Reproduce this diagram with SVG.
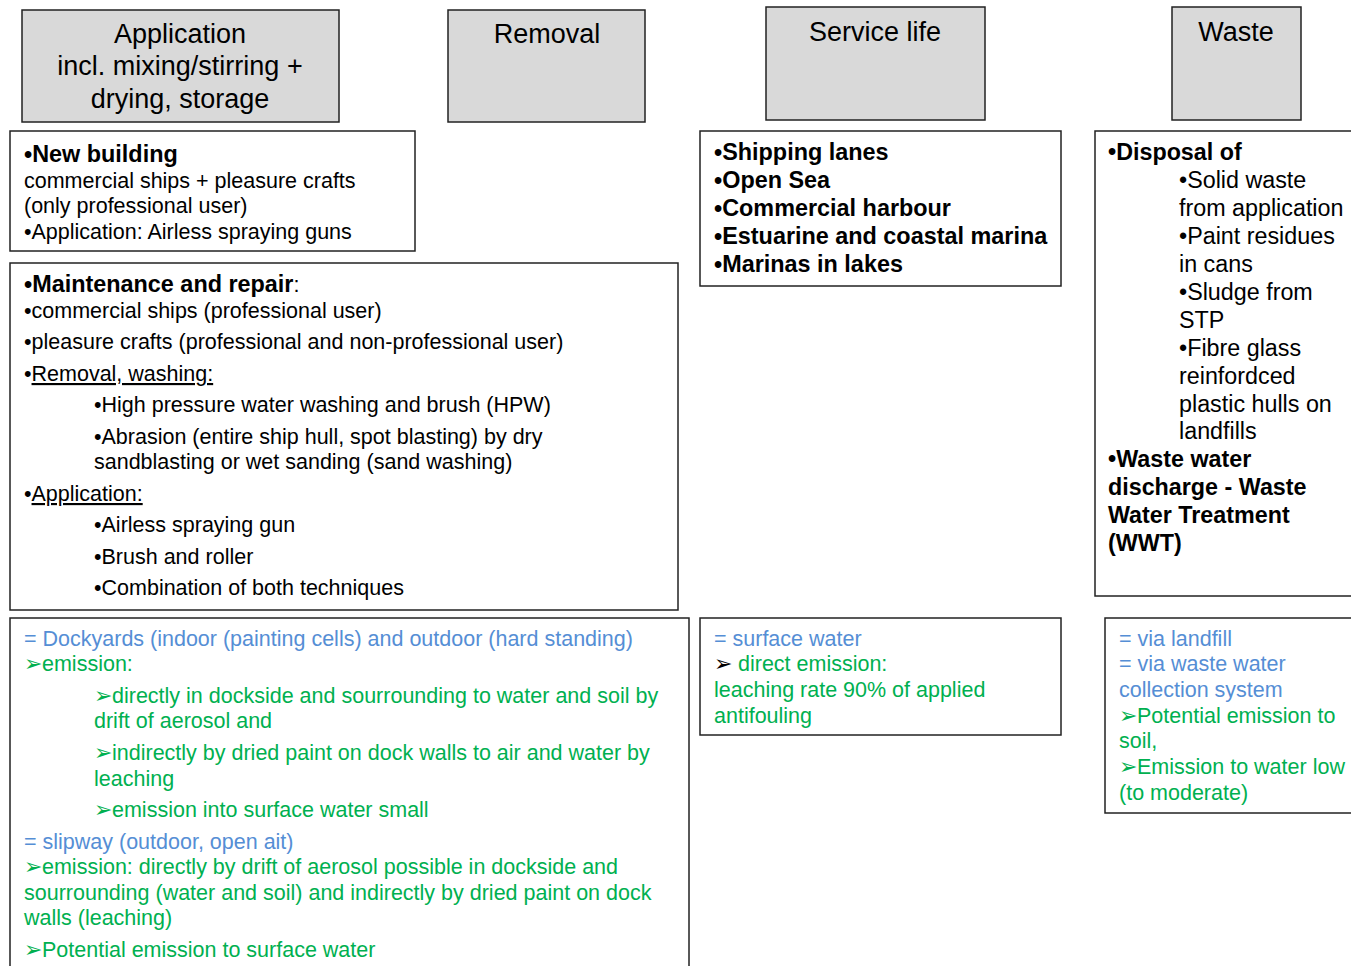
<svg xmlns="http://www.w3.org/2000/svg" width="1351" height="966" viewBox="0 0 1351 966">
<style>
.hdr{fill:#d9d9d9;stroke:#222;stroke-width:1.5}
.box{fill:#fff;stroke:#222;stroke-width:1.5}
.n{font-family:"Liberation Sans Narrow","Liberation Sans",Arial,sans-serif;fill:#000}
.w{font-family:"Liberation Sans",Arial,sans-serif;fill:#000}
.h{font-size:27px;text-anchor:middle}
.b{font-weight:bold}
.blue{fill:#558ed5}
.green{fill:#00b050}
.t20{font-size:21.5px}
.t22{font-size:23.4px}
.t23{font-size:23.3px}
</style>
<rect width="1351" height="966" fill="#fff"/>
<g id="hdr-application">
<rect class="hdr" x="22" y="10" width="317" height="112"/>
<text class="n h"><tspan x="180" y="43">Application</tspan><tspan x="180" y="75">incl. mixing/stirring +</tspan><tspan x="180" y="108">drying, storage</tspan></text>
</g>
<g id="hdr-removal">
<rect class="hdr" x="448" y="10" width="197" height="112"/>
<text class="n h"><tspan x="547" y="43">Removal</tspan></text>
</g>
<g id="hdr-service">
<rect class="hdr" x="766" y="7" width="219" height="113"/>
<text class="n h"><tspan x="875" y="41">Service life</tspan></text>
</g>
<g id="hdr-waste">
<rect class="hdr" x="1172" y="7" width="129" height="113"/>
<text class="n h"><tspan x="1236" y="41">Waste</tspan></text>
</g>
<g id="box-newbuilding">
<rect class="box" x="10" y="131" width="405" height="120"/>
<text class="n t20"><tspan x="24" y="162" class="b t22">•New building</tspan><tspan x="24" y="188">commercial ships + pleasure crafts</tspan><tspan x="24" y="213">(only professional user)</tspan><tspan x="24" y="239">•Application: Airless spraying guns</tspan></text>
</g>
<g id="box-maintenance">
<rect class="box" x="10" y="263" width="668" height="347"/>
<text class="n t20"><tspan x="24" y="292"><tspan class="b t22">•Maintenance and repair</tspan>:</tspan><tspan x="24" y="318">•commercial ships (professional user)</tspan><tspan x="24" y="349">•pleasure crafts (professional and non-professional user)</tspan><tspan x="24" y="381">•<tspan text-decoration="underline">Removal, washing:</tspan></tspan><tspan x="94" y="412">•High pressure water washing and brush (HPW)</tspan><tspan x="94" y="444">•Abrasion (entire ship hull, spot blasting) by dry</tspan><tspan x="94" y="469">sandblasting or wet sanding (sand washing)</tspan><tspan x="24" y="501">•<tspan text-decoration="underline">Application:</tspan></tspan><tspan x="94" y="532">•Airless spraying gun</tspan><tspan x="94" y="564">•Brush and roller</tspan><tspan x="94" y="595">•Combination of both techniques</tspan></text>
</g>
<g id="box-dockyards">
<rect class="box" x="10" y="618" width="679" height="360"/>
<text class="n t20"><tspan x="24" y="646" class="blue">= Dockyards (indoor (painting cells) and outdoor (hard standing)</tspan><tspan x="24" y="671" class="green">➢emission:</tspan><tspan x="94" y="703" class="green">➢directly in dockside and sourrounding to water and soil by</tspan><tspan x="94" y="728" class="green">drift of aerosol and</tspan><tspan x="94" y="760" class="green">➢indirectly by dried paint on dock walls to air and water by</tspan><tspan x="94" y="786" class="green">leaching</tspan><tspan x="94" y="817" class="green">➢emission into surface water small</tspan><tspan x="24" y="849" class="blue">= slipway (outdoor, open ait)</tspan><tspan x="24" y="874" class="green">➢emission: directly by drift of aerosol possible in dockside and</tspan><tspan x="24" y="900" class="green">sourrounding (water and soil) and indirectly by dried paint on dock</tspan><tspan x="24" y="925" class="green">walls (leaching)</tspan><tspan x="24" y="957" class="green">➢Potential emission to surface water</tspan></text>
</g>
<g id="box-service">
<rect class="box" x="700" y="131" width="361" height="155"/>
<text class="n b t22"><tspan x="714" y="160">•Shipping lanes</tspan><tspan x="714" y="188">•Open Sea</tspan><tspan x="714" y="216">•Commercial harbour</tspan><tspan x="714" y="244">•Estuarine and coastal marina</tspan><tspan x="714" y="272">•Marinas in lakes</tspan></text>
</g>
<g id="box-surface">
<rect class="box" x="700" y="618" width="361" height="117"/>
<text class="n t20"><tspan x="714" y="646" class="blue">= surface water</tspan><tspan x="714" y="671">➢ <tspan class="green">direct emission:</tspan></tspan><tspan x="714" y="697" class="green">leaching rate 90% of applied</tspan><tspan x="714" y="723" class="green">antifouling</tspan></text>
</g>
<g id="box-waste">
<rect class="box" x="1095" y="131" width="270" height="465"/>
<text class="w t23"><tspan x="1108" y="160" class="b">•Disposal of</tspan><tspan x="1179" y="188">•Solid waste</tspan><tspan x="1179" y="216">from application</tspan><tspan x="1179" y="244">•Paint residues</tspan><tspan x="1179" y="272">in cans</tspan><tspan x="1179" y="300">•Sludge from</tspan><tspan x="1179" y="328">STP</tspan><tspan x="1179" y="356">•Fibre glass</tspan><tspan x="1179" y="384">reinfordced</tspan><tspan x="1179" y="412">plastic hulls on</tspan><tspan x="1179" y="439">landfills</tspan><tspan x="1108" y="467" class="b">•Waste water</tspan><tspan x="1108" y="495" class="b">discharge - Waste</tspan><tspan x="1108" y="523" class="b">Water Treatment</tspan><tspan x="1108" y="551" class="b">(WWT)</tspan></text>
</g>
<g id="box-waste-emission">
<rect class="box" x="1105" y="618" width="260" height="195"/>
<text class="n t20"><tspan x="1119" y="646" class="blue">= via landfill</tspan><tspan x="1119" y="671" class="blue">= via waste water</tspan><tspan x="1119" y="697" class="blue">collection system</tspan><tspan x="1119" y="723" class="green">➢Potential emission to</tspan><tspan x="1119" y="748" class="green">soil,</tspan><tspan x="1119" y="774" class="green">➢Emission to water low</tspan><tspan x="1119" y="800" class="green">(to moderate)</tspan></text>
</g>
<g id="connectors"/>
</svg>
